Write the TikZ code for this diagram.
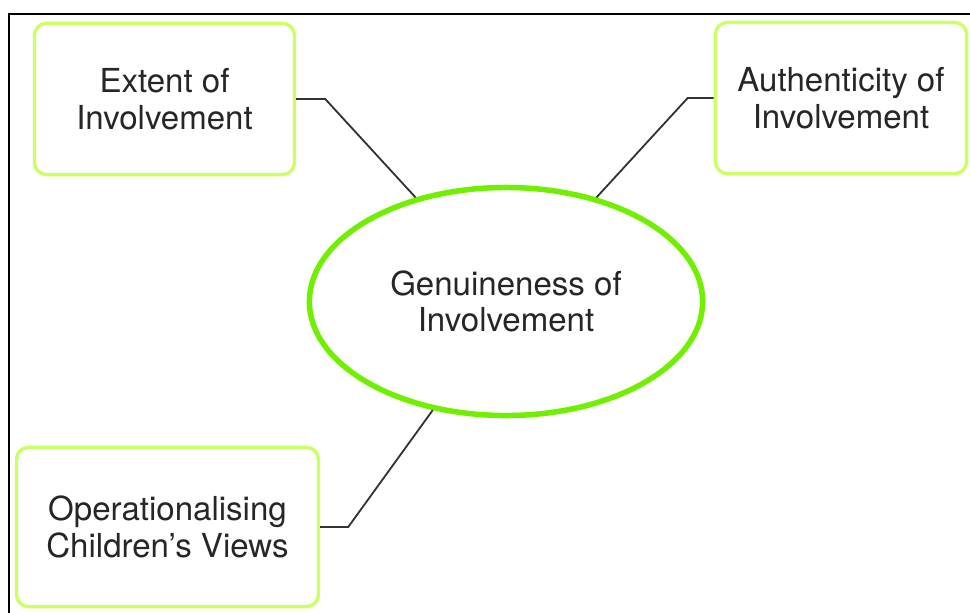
\documentclass[tikz,border=0pt]{standalone}
\usepackage{fontspec}
\setmainfont{TeX Gyre Heros}
\usetikzlibrary{shapes.geometric}
\definecolor{topicgreen}{HTML}{CCFF66}
\definecolor{coregreen}{HTML}{70F000}

\begin{document}
\begin{tikzpicture}[x=0.025cm, y=-0.025cm,
    topic/.style={draw=topicgreen, line width=2.4pt, rounded corners=0.3cm,
        fill=white, align=center, text=black!85,
        font=\fontsize{23.5}{26}\selectfont},
    core/.style={ellipse, draw=coregreen, line width=3.9pt, fill=white,
        align=center, text=black!85, font=\fontsize{23.5}{26}\selectfont,
        minimum width=9.83cm, minimum height=5.7cm},
    link/.style={-, draw=black!80, line width=1.3pt}]
    \useasboundingbox (0,0) rectangle (970,612);
    \clip (0,0) rectangle (970,612);
    \draw[line width=1.5pt] (9,14) rectangle (990,630);

    \node[core] (inv_gen) at (506,301.5) {Genuineness of\\Involvement};
    \node[topic, minimum width=6.5cm, minimum height=3.78cm] (inv_ext) at (164.5,99) {Extent of\\Involvement};
    \node[topic, minimum width=6.28cm, minimum height=3.78cm] (inv_auth) at (841,98) {Authenticity of\\Involvement};
    \node[topic, minimum width=7.55cm, minimum height=3.98cm] (inv_ops) at (167.5,527) {Operationalising\\Children's Views};

    \draw[link] (inv_ext.east) -- ++(29,0) -- (inv_gen.131);
    \draw[link] (inv_auth.west) -- ++(-26,0) -- (inv_gen.49);
    \draw[link] (inv_ops.east) -- ++(28,0) -- (inv_gen.236);
\end{tikzpicture}
\end{document}
